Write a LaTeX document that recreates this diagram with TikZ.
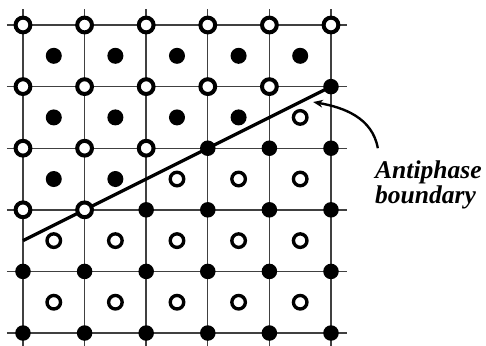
\documentclass[tikz,border=0pt]{standalone}
\usepackage{fontspec}
\setmainfont{Liberation Serif}
\usepackage{tikz}
\usetikzlibrary{arrows.meta}
\tikzset{
  gridline/.style={line width=0.65pt, black!75},
  openpt/.style={draw=black, fill=white, line width=1.85pt},
  opensm/.style={draw=black, fill=white, line width=1.55pt},
  fullpt/.style={fill=black},
  apbline/.style={line width=1.5pt, black},
  apbarrow/.style={line width=1.1pt, -{Stealth[length=4.5pt,width=3.6pt]}},
  apblabel/.style={font=\fontsize{11.8}{11.5}\selectfont\bfseries\itshape, align=left, inner sep=0pt, anchor=north west}
}

\begin{document}
\begin{tikzpicture}
\useasboundingbox (-0.373,-0.195) rectangle (7.516,5.406);
%%% The square lattice
\foreach \k in {0,...,5} {
  \draw[gridline] (-0.26, \k) -- (5.26, \k);
  \draw[gridline] (\k, -0.26) -- (\k, 5.26);
}
%%% The antiphase boundary
\draw[apbline] (0, 1.5) -- (5, 4);
%%%%%% The corner sites, row by row from the top
\foreach \x in {0,...,5} \path[openpt] (\x, 5) circle (0.12);
\foreach \x in {0,...,4} \path[openpt] (\x, 4) circle (0.12);
\path[fullpt] (5, 4) circle (0.126);
\foreach \x in {0,1,2} \path[openpt] (\x, 3) circle (0.12);
\foreach \x in {3,4,5} \path[fullpt] (\x, 3) circle (0.126);
\foreach \x in {0,1} \path[openpt] (\x, 2) circle (0.12);
\foreach \x in {2,...,5} \path[fullpt] (\x, 2) circle (0.126);
\foreach \x in {0,...,5} \path[fullpt] (\x, 1) circle (0.126);
\foreach \x in {0,...,5} \path[fullpt] (\x, 0) circle (0.126);
%%%%%% The body-centre sites, row by row from the top
\foreach \x in {0.5,1.5,...,4.5} \path[fullpt] (\x, 4.5) circle (0.13);
\foreach \x in {0.5,1.5,2.5,3.5} \path[fullpt] (\x, 3.5) circle (0.13);
\path[opensm] (4.5, 3.5) circle (0.11);
\foreach \x in {0.5,1.5} \path[fullpt] (\x, 2.5) circle (0.13);
\foreach \x in {2.5,3.5,4.5} \path[opensm] (\x, 2.5) circle (0.11);
\foreach \x in {0.5,1.5,...,4.5} \path[opensm] (\x, 1.5) circle (0.11);
\foreach \x in {0.5,1.5,...,4.5} \path[opensm] (\x, 0.5) circle (0.11);
%%% The label and its arrow
\node[apblabel] (apb) at (5.71, 2.80) {Antiphase\\boundary};
\coordinate (apbtail) at ([xshift=0.05cm, yshift=0.2cm]apb.north west);
\coordinate (apbtip) at (4.71, 3.75);
\draw[apbarrow] (apbtail) to[out=100, in=-10] (apbtip);
\end{tikzpicture}
\end{document}
